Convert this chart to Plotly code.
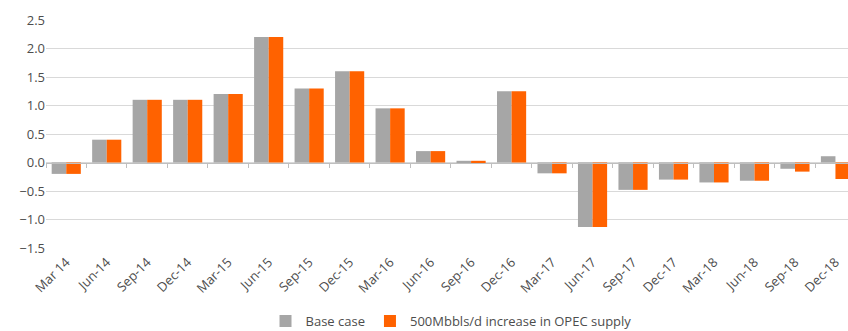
import plotly.graph_objects as go

# Quarterly balance, mb/d
quarters = ["Mar 14", "Jun-14", "Sep-14", "Dec-14", "Mar-15", "Jun-15", "Sep-15",
            "Dec-15", "Mar-16", "Jun-16", "Sep-16", "Dec-16", "Mar-17", "Jun-17",
            "Sep-17", "Dec-17", "Mar-18", "Jun-18", "Sep-18", "Dec-18"]
base_case = [-0.20, 0.40, 1.10, 1.10, 1.20, 2.20, 1.30, 1.60, 0.95, 0.20, 0.03,
             1.25, -0.19, -1.13, -0.48, -0.30, -0.35, -0.32, -0.11, 0.11]
opec_plus_500 = [-0.20, 0.40, 1.10, 1.10, 1.20, 2.20, 1.30, 1.60, 0.95, 0.20, 0.03,
                 1.25, -0.19, -1.13, -0.48, -0.30, -0.35, -0.32, -0.16, -0.29]
y_ticks = [2.5, 2.0, 1.5, 1.0, 0.5, 0.0, -0.5, -1.0, -1.5]

GREY = "#A6A6A6"
ORANGE = "#FF6200"
TEXT = "#4D4D4D"
FONT = "Open Sans"

x_range = [-0.5, 19.31]
y_range = [-1.5, 2.5]

fig = go.Figure()
fig.add_trace(go.Bar(x=quarters, y=base_case, name="Base case",
                     marker=dict(color=GREY, line=dict(width=0))))
fig.add_trace(go.Bar(x=quarters, y=opec_plus_500,
                     name="500Mbbls/d increase in OPEC supply",
                     marker=dict(color=ORANGE, line=dict(width=0))))

# The category axis sits on y = 0; its labels are pushed down below the plot
zero_pos = (0 - y_range[0]) / (y_range[1] - y_range[0])

fig.update_layout(
    width=848, height=331,
    margin=dict(l=46, r=0, t=20, b=83, autoexpand=False),
    paper_bgcolor="white", plot_bgcolor="white",
    barmode="group", bargap=0.28, bargroupgap=0,
    font=dict(family=FONT, size=13, color=TEXT),
    xaxis=dict(type="category", range=x_range, domain=[0, 1],
               anchor="free", position=zero_pos, automargin=False,
               showline=True, linecolor="#BFBFBF", linewidth=1,
               ticks="outside", ticklen=4, tickcolor="#BFBFBF", tickwidth=1,
               tickson="boundaries", showgrid=False, zeroline=False,
               tickangle=-45, ticklabelstandoff=86,
               tickfont=dict(size=13, color=TEXT)),
    yaxis=dict(range=y_range, tickvals=y_ticks, tickformat=".1f",
               domain=[0, 1], automargin=False,
               showgrid=True, gridcolor="#D9D9D9", gridwidth=1,
               zeroline=False, showline=False, ticks="",
               tickfont=dict(size=13, color=TEXT)),
    legend=dict(orientation="h", x=0.505, xanchor="center", y=-0.32,
                yanchor="middle", font=dict(size=13, color=TEXT),
                itemwidth=30, traceorder="normal"),
)

fig.write_html("out.html")
